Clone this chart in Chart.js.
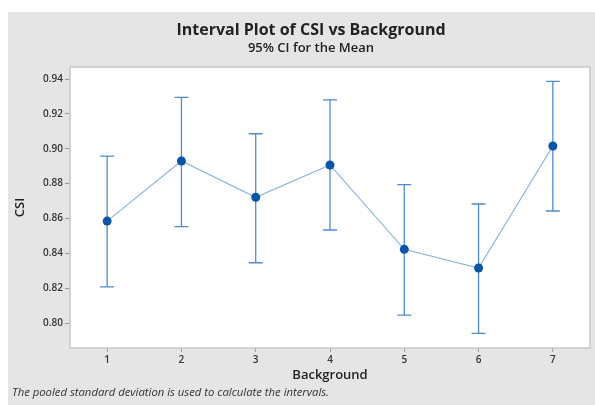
<!DOCTYPE html>
<html>
<head>
<meta charset="utf-8">
<script src="https://cdn.jsdelivr.net/npm/chart.js@4.4.1/dist/chart.umd.min.js"></script>
<style>
  html, body { margin: 0; padding: 0; background: #fff; }
  #wrap { width: 595px; height: 405px; position: relative; }
</style>
</head>
<body>
<div id="wrap"><canvas id="c" width="595" height="405"></canvas></div>
<script>
'use strict';

// ── data ──
const backgrounds = [1, 2, 3, 4, 5, 6, 7];
const means = [0.8585, 0.8930, 0.8722, 0.8907, 0.8423, 0.8316, 0.9016];
const upperCI = [0.8958, 0.9295, 0.9086, 0.9280, 0.8794, 0.8683, 0.9387];
const lowerCI = [0.8208, 0.8553, 0.8346, 0.8534, 0.8046, 0.7941, 0.8643];
const yTicks = [0.80, 0.82, 0.84, 0.86, 0.88, 0.90, 0.92, 0.94];
const xTicks = [1, 2, 3, 4, 5, 6, 7];

const FONT = '"Open Sans", "Noto Sans", sans-serif';
const TXT = '#222';

// grey panel + white plot box with border
const panelBg = {
  id: 'panelBg',
  beforeDraw(chart) {
    const { ctx, chartArea: a } = chart;
    ctx.save();
    ctx.fillStyle = '#e5e5e5';
    ctx.fillRect(8, 12, chart.width - 8, chart.height - 12);
    ctx.fillStyle = '#fff';
    ctx.fillRect(a.left, a.top, a.right - a.left, a.bottom - a.top);
    ctx.restore();
  },
  afterDraw(chart) {
    const { ctx, chartArea: a } = chart;
    ctx.save();
    ctx.strokeStyle = '#c8c8c8';
    ctx.lineWidth = 1.5;
    ctx.strokeRect(a.left, a.top, a.right - a.left, a.bottom - a.top);
    // titles and footnote
    ctx.fillStyle = TXT;
    ctx.textAlign = 'center';
    ctx.textBaseline = 'alphabetic';
    ctx.font = '700 16px ' + FONT;
    ctx.fillText('Interval Plot of CSI vs Background', 311, 35);
    ctx.font = '600 13px ' + FONT;
    ctx.fillText('95% CI for the Mean', 311, 52);
    ctx.textAlign = 'left';
    ctx.font = 'italic 11.3px ' + FONT;
    ctx.fillStyle = '#333';
    ctx.fillText('The pooled standard deviation is used to calculate the intervals.', 12, 396);
    ctx.restore();
  }
};

// CI whiskers, drawn under the markers
const ciBars = {
  id: 'ciBars',
  beforeDatasetsDraw(chart) {
    const { ctx, scales: { x, y } } = chart;
    ctx.save();
    ctx.strokeStyle = '#4f8bd0';
    ctx.lineWidth = 1.3;
    backgrounds.forEach((b, i) => {
      const px = x.getPixelForValue(b);
      const top = y.getPixelForValue(upperCI[i]);
      const bot = y.getPixelForValue(lowerCI[i]);
      ctx.beginPath();
      ctx.moveTo(px, top); ctx.lineTo(px, bot);
      ctx.moveTo(px - 7, top); ctx.lineTo(px + 7, top);
      ctx.moveTo(px - 7, bot); ctx.lineTo(px + 7, bot);
      ctx.stroke();
    });
    ctx.restore();
  }
};

new Chart(document.getElementById('c'), {
  type: 'line',
  data: {
    datasets: [{
      data: backgrounds.map((b, i) => ({ x: b, y: means[i] })),
      borderColor: '#8db2e0',
      borderWidth: 1.2,
      pointRadius: 4.5,
      pointBackgroundColor: '#0a55a6',
      pointBorderColor: '#0a55a6',
      pointBorderWidth: 0,
      tension: 0
    }]
  },
  options: {
    responsive: false,
    animation: false,
    layout: { padding: { top: 67, right: 5, left: 12, bottom: 22 } },
    plugins: { legend: { display: false }, tooltip: { enabled: false } },
    scales: {
      x: {
        type: 'linear', min: 0.5, max: 7.5,
        afterBuildTicks: ax => { ax.ticks = xTicks.map(v => ({ value: v })); },
        afterFit: ax => { ax.height = 35; },
        grid: { drawOnChartArea: false, drawTicks: true, tickLength: 4, color: '#999' },
        border: { display: false },
        ticks: { color: '#333', font: { family: FONT, size: 10, weight: '600' }, padding: 2, maxRotation: 0 },
        title: { display: true, text: 'Background', color: TXT, font: { family: FONT, size: 13, weight: '600' }, padding: { top: 0, bottom: 0 } }
      },
      y: {
        type: 'linear', min: 0.7857, max: 0.9469,
        afterBuildTicks: ax => { ax.ticks = yTicks.map(v => ({ value: v })); },
        afterFit: ax => { ax.width = 58; },
        grid: { drawOnChartArea: false, drawTicks: true, tickLength: 5, color: '#999' },
        border: { display: false },
        ticks: { color: '#333', font: { family: FONT, size: 10, weight: '600' }, padding: 2, callback: v => v.toFixed(2) },
        title: { display: true, text: 'CSI', color: TXT, font: { family: FONT, size: 13, weight: '600' }, padding: { top: 0, bottom: 4 } }
      }
    }
  },
  plugins: [panelBg, ciBars]
});
</script>
</body>
</html>
